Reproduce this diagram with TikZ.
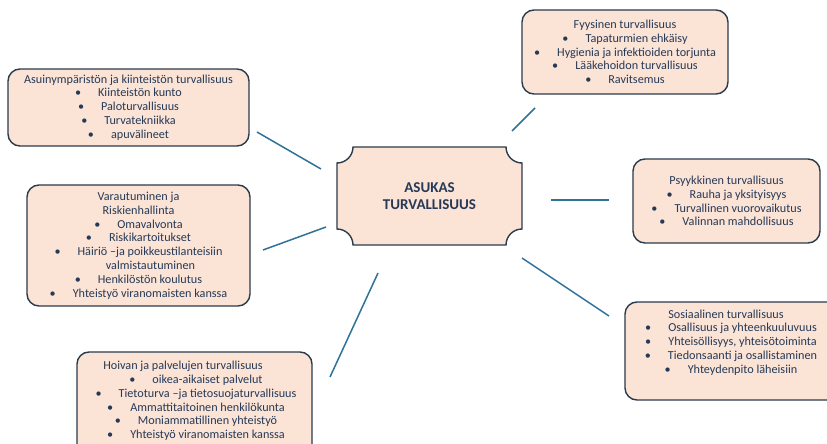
\documentclass[tikz,border=0pt]{standalone}
\usepackage{fontspec}
\setmainfont{Carlito}
\definecolor{boxfill}{HTML}{FBE3D6}
\definecolor{boxdraw}{HTML}{2A3B4C}
\definecolor{txt}{HTML}{253A57}
\definecolor{linkcol}{HTML}{2F7298}
\newcommand{\bul}{\textbullet\hspace{17pt}}
\begin{document}
\begin{tikzpicture}[x=1pt,y=-1pt,
  card/.style={draw=boxdraw, line width=1.4pt, fill=boxfill, rounded corners=12pt, inner sep=0pt},
  plaque/.style={draw=boxdraw, line width=1.4pt, fill=boxfill},
  txtnode/.style={text=txt, align=center, font=\fontsize{12.2}{13.8}\selectfont, inner sep=0pt},
  link/.style={draw=linkcol, line width=1.5pt}]
\useasboundingbox (0,0) rectangle (827,444);
\clip (0,0) rectangle (827,444);

% boxes
\node[card, minimum width=241pt, minimum height=77pt] (b1) at (128.5,107.5) {};
\node[card, minimum width=223pt, minimum height=121pt] (b2) at (138.5,245.5) {};
\node[card, minimum width=235pt, minimum height=108pt] (b3) at (194.5,406) {};
\node[card, minimum width=206pt, minimum height=84pt] (b4) at (625,52) {};
\node[card, minimum width=187pt, minimum height=84pt] (b5) at (726.5,201) {};
\node[card, minimum width=215pt, minimum height=98pt] (b6) at (732.5,351) {};

% center plaque
\node[minimum width=185pt, minimum height=98pt, inner sep=0pt] (c) at (429.5,196) {};
\draw[plaque] (353,147) -- (506,147) .. controls (506,155.8) and (513.2,163) .. (522,163)
  -- (522,229) .. controls (513.2,229) and (506,236.2) .. (506,245)
  -- (353,245) .. controls (353,236.2) and (345.8,229) .. (337,229)
  -- (337,163) .. controls (345.8,163) and (353,155.8) .. (353,147) -- cycle;
\node[text=txt, align=center, inner sep=0pt, font=\bfseries\fontsize{15}{16.5}\selectfont] (ct) at (c) {ASUKAS\\TURVALLISUUS};

% texts
\node[txtnode] (t1) at (b1) {Asuinympäristön ja kiinteistön turvallisuus\\
  \bul Kiinteistön kunto\\ \bul Paloturvallisuus\\ \bul Turvatekniikka\\ \bul apuvälineet};
\node[txtnode] (t2) at (b2) {Varautuminen ja\\ Riskienhallinta\\
  \bul Omavalvonta\\ \bul Riskikartoitukset\\ \bul Häiriö –ja poikkeustilanteisiin\\
  \hspace*{24pt}valmistautuminen\\ \bul Henkilöstön koulutus\\ \bul Yhteistyö viranomaisten kanssa};
\node[txtnode] (t3) at (196,401) {Hoivan ja palvelujen turvallisuus\hspace*{26pt}\\
  \bul oikea-aikaiset palvelut\\ \bul Tietoturva –ja tietosuojaturvallisuus\\
  \bul Ammattitaitoinen henkilökunta\\ \bul Moniammatillinen yhteistyö\\ \bul Yhteistyö viranomaisten kanssa};
\node[txtnode] (t4) at (b4) {Fyysinen turvallisuus\\ \bul Tapaturmien ehkäisy\\
  \bul Hygienia ja infektioiden torjunta\\ \bul Lääkehoidon turvallisuus\\ \bul Ravitsemus};
\node[txtnode] (t5) at (b5) {Psyykkinen turvallisuus\\ \bul Rauha ja yksityisyys\\
  \bul Turvallinen vuorovaikutus\\ \bul Valinnan mahdollisuus};
\node[txtnode] (t6) at (731,342.5) {Sosiaalinen turvallisuus\hspace*{10pt}\\ \bul Osallisuus ja yhteenkuuluvuus\\
  \bul Yhteisöllisyys, yhteisötoiminta\\ \bul Tiedonsaanti ja osallistaminen\\ \bul Yhteydenpito läheisiin};

% connectors
\coordinate (l1a) at (257,132); \coordinate (l1b) at (321,169);
\coordinate (l2a) at (263,250); \coordinate (l2b) at (326,227);
\coordinate (l3a) at (330,377); \coordinate (l3b) at (378,273);
\coordinate (l4a) at (512,131); \coordinate (l4b) at (535,108);
\coordinate (l5a) at (551,200); \coordinate (l5b) at (609,200);
\coordinate (l6a) at (522,258); \coordinate (l6b) at (609,316);
\draw[link] (l1a) -- (l1b);
\draw[link] (l2a) -- (l2b);
\draw[link] (l3a) -- (l3b);
\draw[link] (l4a) -- (l4b);
\draw[link] (l5a) -- (l5b);
\draw[link] (l6a) -- (l6b);
\end{tikzpicture}
\end{document}
